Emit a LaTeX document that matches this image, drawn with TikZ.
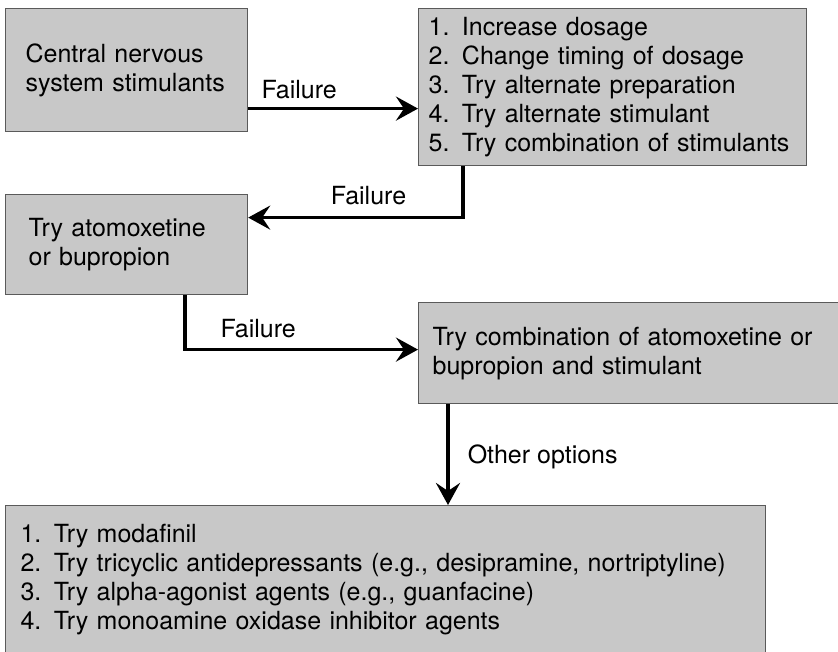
\documentclass[tikz,border=0pt]{standalone}
\usepackage{fontspec}
\setmainfont{TeX Gyre Heros}
\usetikzlibrary{arrows.meta}
\hyphenpenalty=10000
\exhyphenpenalty=10000
\definecolor{boxfill}{RGB}{200,200,200}
\definecolor{boxline}{RGB}{90,90,90}
\tikzset{
	box/.style={draw=boxline, fill=boxfill, line width=1.2pt, align=left, anchor=north west, inner ysep=0pt},
	arr/.style={line width=3.5pt, -{Stealth[length=22pt,width=24pt,inset=8pt]}},
	lbl/.style={inner sep=0pt}
}
\begin{document}
\begin{tikzpicture}[x=1pt, y=-1pt, font=\fontsize{25}{29}\selectfont]
			\useasboundingbox (0,0) rectangle (838,652);
			\clip (0,0) rectangle (838,652);
			
			\node[box, minimum width=242, minimum height=123, inner xsep=20, text width=202] (cns) at (5,8)
			{Central nervous\\ system stimulants};
			\node[box, minimum width=388, minimum height=157, inner xsep=10, text width=368] (steps) at (418,8)
			{1. Increase dosage\\ 2. Change timing of dosage\\ 3. Try alternate preparation\\ 4. Try alternate stimulant\\ 5. Try combination of stimulants};
			\node[box, minimum width=242, minimum height=100, inner xsep=23, text width=196] (atom) at (5,194)
			{Try atomoxetine\\ or bupropion};
			\node[box, minimum width=424, minimum height=101, inner xsep=14, text width=396] (comb) at (418,302)
			{Try combination of atomoxetine or\\ bupropion and stimulant};
			\node[box, minimum width=760, minimum height=148, inner xsep=15, text width=730] (other) at (5,505)
			{1. Try modafinil\\ 2. Try tricyclic antidepressants (e.g., desipramine, nortriptyline)\\ 3. Try alpha-agonist agents (e.g., guanfacine)\\ 4. Try monoamine oxidase inhibitor agents};
			
			\draw[arr] ([yshift=-38.5pt]cns.east) -- ([yshift=-38.5pt]cns.east -| steps.west)
			node[lbl, pos=0.3, above=8pt] (fail1) {Failure};
			\draw[arr] ([xshift=45pt]steps.south west) |- ([yshift=27pt]atom.east)
			node[lbl, pos=0.72, above=11pt] (fail2) {Failure};
			\draw[arr] ([xshift=180pt]atom.south west) |- ([yshift=3.5pt]comb.west)
			node[lbl, pos=0.657, above=10pt] (fail3) {Failure};
			\draw[arr] ([xshift=30pt]comb.south west) -- ([xshift=30pt]comb.south west |- other.north)
			node[lbl, pos=0.525, right=18pt] (opts) {Other options};
		\end{tikzpicture}
\end{document}
